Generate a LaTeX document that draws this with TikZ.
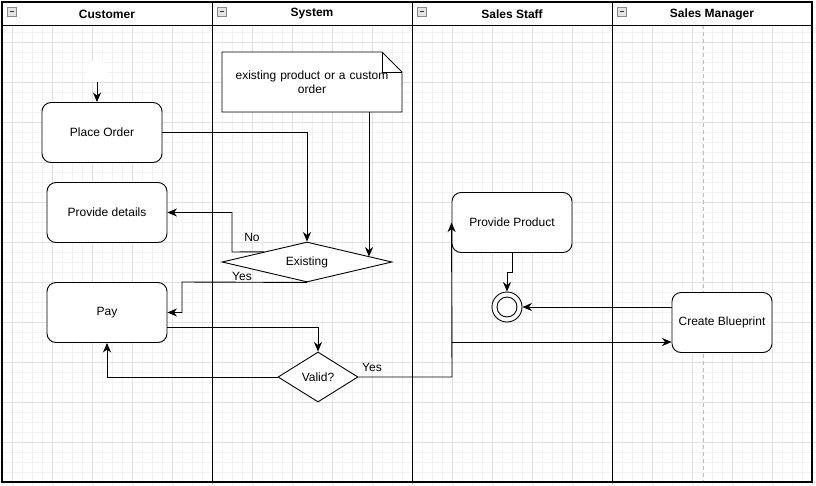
\documentclass[tikz,border=0pt]{standalone}
\usepackage{fontspec}
\setmainfont{Liberation Sans}
\usetikzlibrary{shapes.geometric,shapes.misc,arrows.meta,calc}
\definecolor{gridminor}{HTML}{F2F2F2}
\definecolor{gridmajor}{HTML}{E0E0E0}
\definecolor{iconfill}{HTML}{E4E4E4}
\definecolor{iconline}{HTML}{8A8A8A}
\tikzset{
  act/.style={draw, line width=0.9pt, rounded corners=9pt, fill=white, minimum width=120pt, minimum height=60pt, inner sep=0pt, font=\fontsize{12}{14}\selectfont},
  dec/.style={draw, line width=0.9pt, diamond, fill=white, inner sep=0pt, font=\fontsize{12}{14}\selectfont},
  conn/.style={line width=0.9pt, -{Stealth[length=9.5pt,width=8pt,inset=3pt]}},
  lbl/.style={font=\fontsize{12}{14}\selectfont, inner sep=0pt},
  lanehead/.style={font=\bfseries\fontsize{12}{14}\selectfont, inner sep=0pt},
  lane/.style={line width=0.9pt},
}
\begin{document}
\begin{tikzpicture}[x=1pt,y=-1pt]
\useasboundingbox (0,0) rectangle (816,485);
\fill[white] (0,0) rectangle (816,485);
% grid
\foreach \gx in {2,12,...,812} \draw[gridminor, line width=0.8pt] (\gx,25) -- (\gx,485);
\foreach \gy in {32,42,...,482} \draw[gridminor, line width=0.8pt] (0,\gy) -- (816,\gy);
\foreach \gx in {12,52,...,812} \draw[gridmajor, line width=0.8pt] (\gx,25) -- (\gx,485);
\foreach \gy in {42,82,...,482} \draw[gridmajor, line width=0.8pt] (0,\gy) -- (816,\gy);
% dashed line in Sales Manager lane
\draw[gray!50, dashed, dash pattern=on 4pt off 3pt, line width=0.8pt] (703,25) -- (703,482);
% headers
\fill[white] (2,2) rectangle (812,25);
\draw[lane] (2,25) -- (812,25);
\foreach \lx in {212,412,612} \draw[lane] (\lx,2) -- (\lx,482);
\draw[line width=1.5pt] (2,2) rectangle (812,482);
\node[lanehead] (hc) at (107,14) {Customer};
\node[lanehead] (hs) at (312,14) {System};
\node[lanehead] (hst) at (512,14) {Sales Staff};
\node[lanehead] (hm) at (712,14) {Sales Manager};
\foreach \ix in {7,217,417,617} {
  \draw[iconline, fill=iconfill, line width=0.6pt] (\ix,7) rectangle (\ix+9,16);
  \draw[black!80, line width=1.2pt] (\ix+2.5,11.5) -- (\ix+6.5,11.5);
}
% start (white)
\node[circle, fill=white, minimum size=22pt, inner sep=0pt] (start) at (97,71) {};
% nodes
\node[act] (po) at (102,132.5) {Place Order};
\node[act] (pd) at (107,212.5) {Provide details};
\node[act] (pay) at (107,312.5) {Pay};
\node[act] (pp) at (512,222.5) {Provide Product};
\node[act, minimum width=100pt] (cb) at (722,322.5) {Create Blueprint};
\node[dec, aspect=4.25, minimum width=170pt, minimum height=40pt] (ex) at (307,262) {Existing};
\node[dec, aspect=1.6, minimum width=80pt, minimum height=50pt] (val) at (318,377) {Valid?};
% end node
\node[circle, draw, line width=0.9pt, fill=white, minimum size=30pt, inner sep=0pt] (end) at (507,307) {};
\draw[line width=0.9pt] (end.center) circle (10pt);
% note
\draw[line width=0.9pt, fill=white] (222,52) -- (382,52) -- (402,72) -- (402,112) -- (222,112) -- cycle;
\draw[line width=0.7pt] (382,52) -- (382,72) -- (402,72);
\node[lbl, align=center, text width=175pt] (note) at (312,82) {existing product or a custom\\order};
\coordinate (noteb) at (369,112);
\coordinate (vj) at (452,342);
% connectors
\draw[conn] (start.south) -- (start.south |- po.north);
\draw[conn] (po.east) -- (307,132.5) -- (ex.north);
\draw[conn] (noteb) -- (369,256.6);
\draw[conn] (ex.north west) -- (232,252) -- (232,212.5) -- (pd.east);
\node[lbl] (no) at (252,237) {No};
\draw[conn] (ex.south) -- (182,282) -- (182,312.5) -- (pay.east);
\node[lbl] (yes1) at (242,276) {Yes};
\draw[conn] (167,327) -- (318,327) -- (val.north);
\draw[conn] (val.west) -- (107,377) -- (pay.south);
\draw[conn] (val.east) -- (452,377) -- (pp.west);
\draw[conn] (vj) -- (cb.west |- vj);
\node[lbl] (yes2) at (372,367) {Yes};
\draw[conn] (pp.south) -- (512,272) -- (507,272) -- (end.north);
\draw[conn] (cb.west |- 0,307) -- (end.east);
\end{tikzpicture}
\end{document}
